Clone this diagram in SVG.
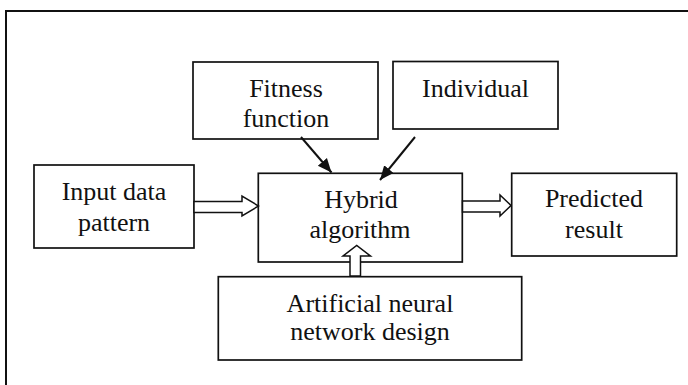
<svg xmlns="http://www.w3.org/2000/svg" width="688" height="385" viewBox="0 0 688 385">
<style>
.frame{fill:none;stroke:#111;stroke-width:2}
.box{fill:#fff;stroke:#111;stroke-width:1.7}
.blk{fill:#fff;stroke:#111;stroke-width:1.5;stroke-linejoin:miter}
.ln{fill:none;stroke:#111;stroke-width:2}
text{font-family:"Liberation Serif","Times New Roman",serif;font-size:26px;fill:#111;text-anchor:middle}
</style>
<defs>
<marker id="ah" markerUnits="userSpaceOnUse" markerWidth="16" markerHeight="14" refX="14" refY="6" orient="auto" viewBox="0 0 16 12">
<path d="M0,0 L14,6 L0,12 Z" fill="#111"/>
</marker>
</defs>
<rect class="frame" x="6" y="11" width="700" height="400"/>
<g id="fitness">
<rect class="box" x="193" y="62" width="185" height="77"/>
<text x="286" y="96.5">Fitness</text>
<text x="286" y="127">function</text>
</g>
<g id="individual">
<rect class="box" x="393" y="61.5" width="165" height="67.5"/>
<text x="475.5" y="96.5">Individual</text>
</g>
<g id="input">
<rect class="box" x="34" y="165" width="160" height="83"/>
<text x="114" y="200">Input data</text>
<text x="114" y="231">pattern</text>
</g>
<g id="hybrid">
<rect class="box" x="258.3" y="173.3" width="204" height="88.7"/>
<text x="361" y="207.5">Hybrid</text>
<text x="360" y="238.3">algorithm</text>
</g>
<g id="predicted">
<rect class="box" x="511.7" y="173.3" width="165" height="82.7"/>
<text x="594" y="207.3">Predicted</text>
<text x="594" y="238.3">result</text>
</g>
<g id="ann">
<rect class="box" x="218.3" y="276.7" width="303.4" height="83.3"/>
<text x="370" y="311.7">Artificial neural</text>
<text x="370" y="340">network design</text>
</g>
<g id="connectors">
<polygon class="blk" points="194,201.5 242,201.5 242,196 258.5,206 242,216 242,212.5 194,212.5"/>
<polygon class="blk" points="462.5,201 500,201 500,195 511,205.5 500,216 500,212 462.5,212"/>
<polygon class="blk" points="350,276 350,256 343,256 356.7,245.5 370.5,256 360.5,256 360.5,276"/>
<line class="ln" x1="301" y1="137" x2="331.5" y2="172.5" marker-end="url(#ah)"/>
<line class="ln" x1="415" y1="137" x2="380" y2="180" marker-end="url(#ah)"/>
</g>
</svg>
